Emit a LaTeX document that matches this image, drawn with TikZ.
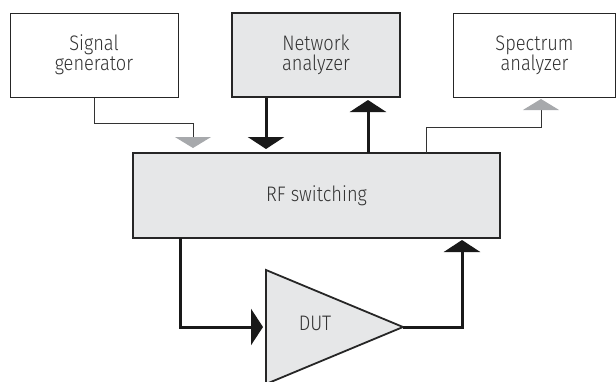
\documentclass[tikz,border=0pt]{standalone}
\usepackage{fontspec}
\setmainfont{Fira Sans Light}[FakeStretch=0.87]
\usetikzlibrary{arrows.meta}
\definecolor{boxfill}{HTML}{E6E7E8}
\definecolor{tipgray}{HTML}{A7A9AC}
\definecolor{txt}{HTML}{333333}
\tikzset{
  lbl/.style={text=txt,font=\fontsize{21}{20}\selectfont,align=center},
  plainbox/.style={draw=black!85,line width=1pt,fill=white,lbl,inner sep=0pt},
  greybox/.style={draw=black!85,fill=boxfill,lbl,inner sep=0pt},
  thickline/.style={draw=black!90,line width=3pt,-{Triangle[width=36pt,length=12pt]}},
  thinline/.style={draw=black!80,line width=1pt,-{Triangle[width=36pt,length=11pt,color=tipgray]}},
}
\begin{document}
\begin{tikzpicture}[x=1pt,y=-1pt]
\useasboundingbox (0,0) rectangle (616,381);
\begin{scope}
\clip (0,0) rectangle (616,381);
\node[plainbox,minimum width=168pt,minimum height=84pt] (sig) at (94,55) {Signal\\generator};
\node[greybox,line width=2pt,minimum width=168pt,minimum height=84pt] (net) at (316,55) {Network\\analyzer};
\node[plainbox,minimum width=162pt,minimum height=84pt] (spec) at (534.5,55) {Spectrum\\analyzer};
\node[greybox,line width=1.6pt,minimum width=367pt,minimum height=85pt] (rf) at (316.5,195.5) {RF switching};
% DUT triangle
\coordinate (dutT) at (266,270);
\coordinate (dutB) at (266,384);
\coordinate (dutA) at (403,327);
\coordinate (dutIn) at (263,327);
\draw[draw=black!85,fill=boxfill,line width=1.8pt,line join=miter] (dutT) -- (dutA) -- (dutB) -- cycle;
\node[lbl] (dut) at (315,323) {DUT};
% connectors
\coordinate (sigtip) at (193,148);
\draw[thinline] (sig.south) |- (94,123) -| (sigtip);
\coordinate (nettip) at (266,149);
\draw[thickline] (net.south -| nettip) -- (nettip);
\coordinate (rfout) at (368,153);
\coordinate (nettipup) at (368,100);
\draw[thickline] (rfout) -- (nettipup);
\coordinate (specsrc) at (426,153);
\coordinate (spectip) at (541,99);
\draw[thinline] (specsrc) |- (541,127) -- (spectip);
\coordinate (rfbot) at (180,238);
\draw[thickline] (rfbot) |- (dutIn);
\coordinate (rftip) at (462,240);
\draw[thickline] (dutA) -| (rftip);
\end{scope}
\end{tikzpicture}
\end{document}
